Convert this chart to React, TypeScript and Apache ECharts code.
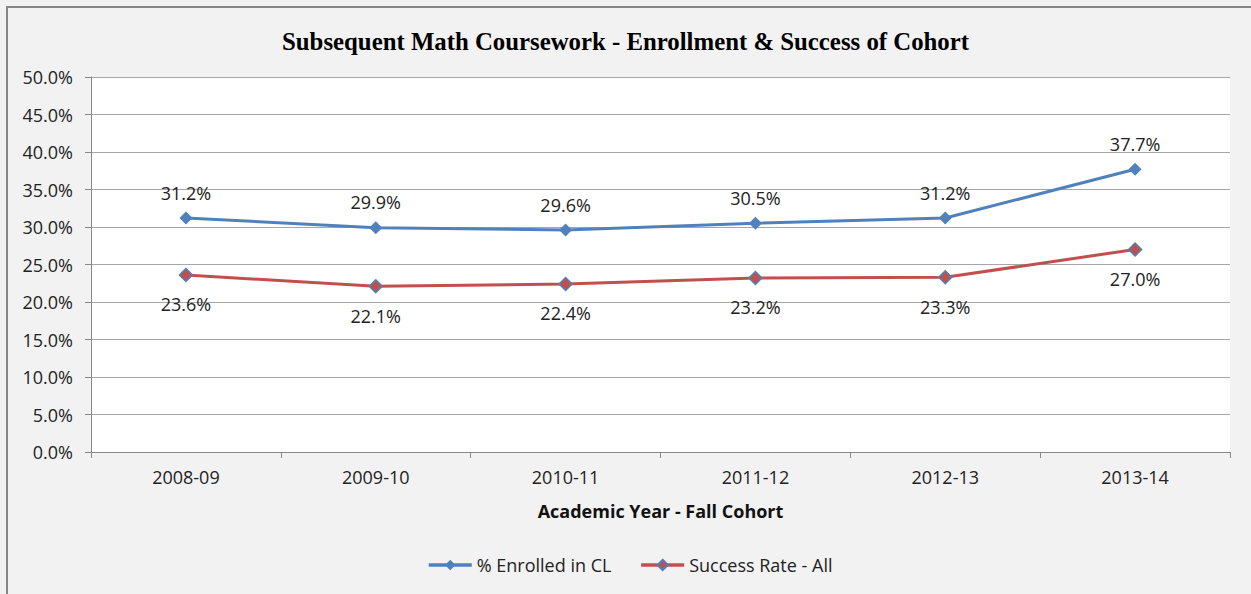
import React, { useEffect, useRef } from "react";
import * as echarts from "echarts";

const categories = ["2008-09", "2009-10", "2010-11", "2011-12", "2012-13", "2013-14"];
const enrolled = [31.2, 29.9, 29.6, 30.5, 31.2, 37.7];
const success = [23.6, 22.1, 22.4, 23.2, 23.3, 27.0];
const seriesNames = ["% Enrolled in CL", "Success Rate - All"];

const FONT = "'Open Sans', 'Noto Sans', sans-serif";
const FS = 18;

export default function App() {
  const ref = useRef<HTMLDivElement>(null);
  useEffect(() => {
    document.body.style.margin = "0";
    const chart = echarts.init(ref.current!, null, { renderer: "svg" });
    chart.setOption({
      animation: false,
      backgroundColor: "#f2f2f2",
      title: {
        text: "Subsequent Math Coursework - Enrollment & Success of Cohort",
        left: "center",
        top: 24,
        textStyle: { fontFamily: "'Liberation Serif', serif", fontWeight: "bold", fontSize: 24.8, color: "#000" },
      },
      graphic: [
        {
          type: "rect",
          shape: { x: 7, y: 7, width: 1260, height: 600 },
          style: { fill: "none", stroke: "#868686", lineWidth: 2 },
          silent: true,
        },
      ],
      grid: { left: 91, right: 21, top: 77, bottom: 142, backgroundColor: "#fff", show: true, borderWidth: 0 },
      legend: {
        bottom: 15,
        left: 422,
        itemWidth: 43,
        itemHeight: 13,
        itemGap: 28,
        lineStyle: { width: 3.5 },
        textStyle: { fontFamily: FONT, fontSize: FS, color: "#222" },
        data: seriesNames,
      },
      xAxis: {
        type: "category",
        data: categories,
        boundaryGap: true,
        name: "Academic Year - Fall Cohort",
        nameLocation: "middle",
        nameGap: 50,
        nameTextStyle: { fontFamily: FONT, fontWeight: "bold", fontSize: FS, color: "#111" },
        axisLine: { lineStyle: { color: "#888", width: 1 } },
        axisTick: { show: true, length: 6, alignWithLabel: false, lineStyle: { color: "#888" } },
        axisLabel: { fontFamily: FONT, fontSize: FS, color: "#222", margin: 16 },
      },
      yAxis: {
        type: "value",
        min: 0,
        max: 50,
        interval: 5,
        axisLine: { show: true, lineStyle: { color: "#888", width: 1 } },
        axisTick: { show: true, length: 6, lineStyle: { color: "#888" } },
        axisLabel: {
          fontFamily: FONT,
          fontSize: FS,
          color: "#222",
          margin: 18,
          formatter: (v: number) => v.toFixed(1) + "%",
        },
        splitLine: { lineStyle: { color: "#a6a6a6", width: 1 } },
      },
      series: [
        {
          name: seriesNames[0],
          type: "line",
          data: enrolled,
          symbol: "diamond",
          symbolSize: 13,
          color: "#4f81bd",
          lineStyle: { color: "#4f81bd", width: 3 },
          itemStyle: { color: "#4f81bd" },
          label: {
            show: true,
            position: "top",
            distance: 10,
            fontFamily: FONT,
            fontSize: FS,
            color: "#222",
            formatter: (p: any) => p.value.toFixed(1) + "%",
          },
        },
        {
          name: seriesNames[1],
          type: "line",
          data: success,
          symbol: "diamond",
          symbolSize: 13,
          color: "#c0504d",
          lineStyle: { color: "#c0504d", width: 3 },
          itemStyle: { color: "#c0504d", borderColor: "#4f81bd", borderWidth: 1.5 },
          label: {
            show: true,
            position: "bottom",
            distance: 13,
            fontFamily: FONT,
            fontSize: FS,
            color: "#222",
            formatter: (p: any) => p.value.toFixed(1) + "%",
          },
        },
      ],
    });
    return () => chart.dispose();
  }, []);
  return <div ref={ref} style={{ width: 1251, height: 594 }} />;
}
